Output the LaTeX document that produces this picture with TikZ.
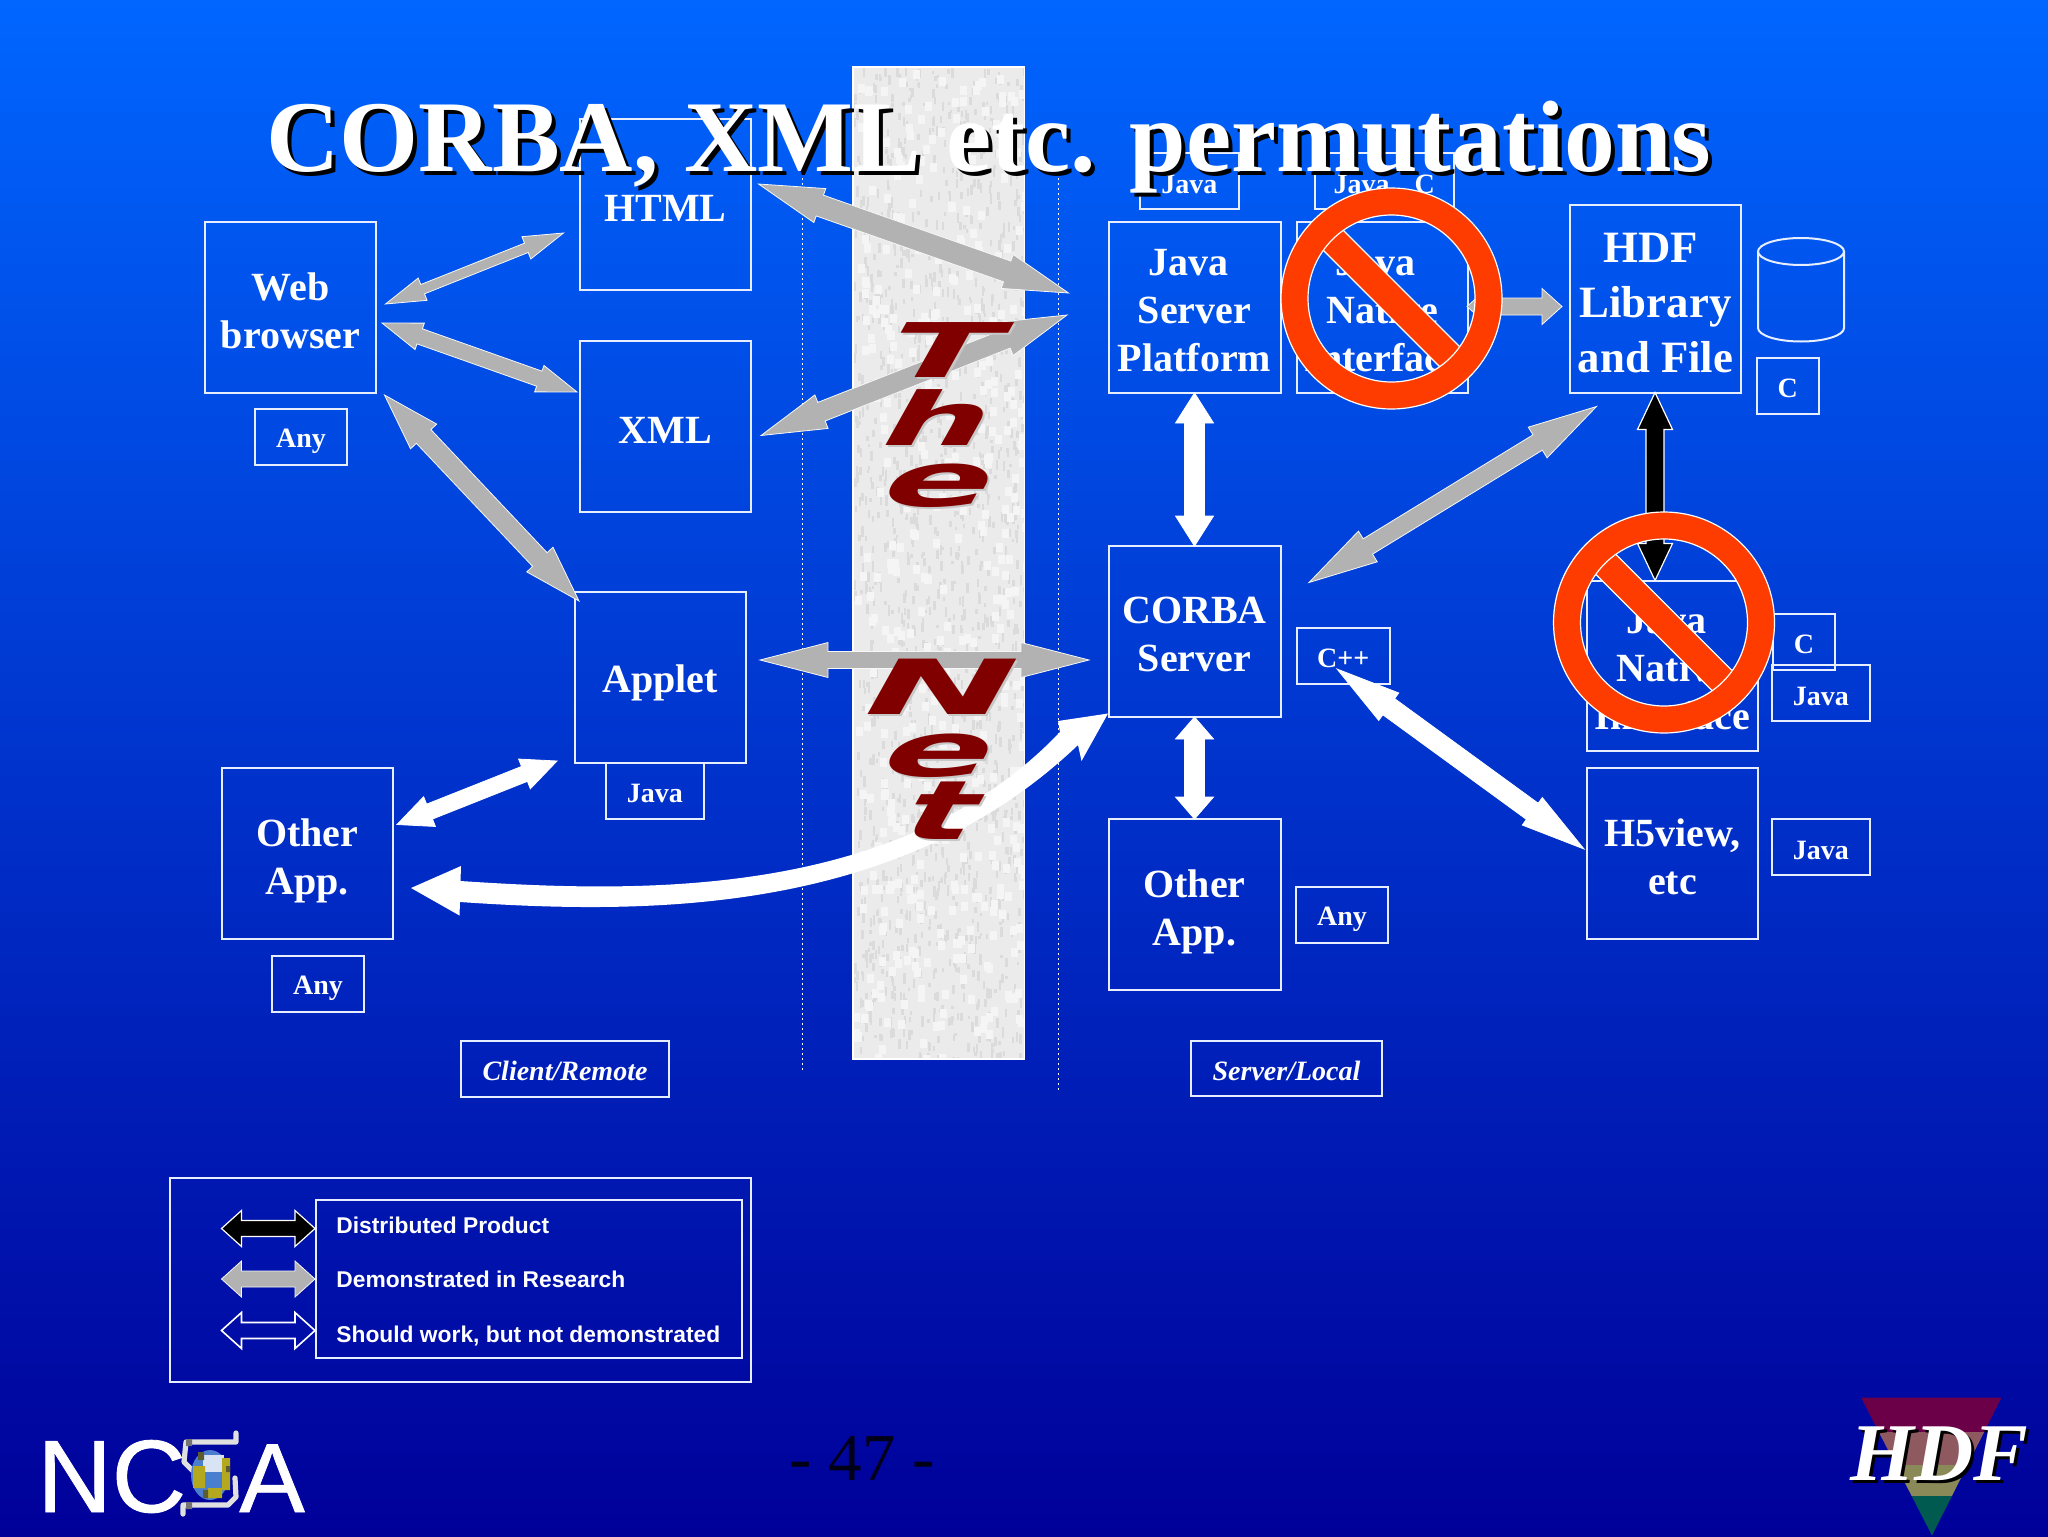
\documentclass[tikz,border=0pt]{standalone}
\usepackage{fontspec}
\usetikzlibrary{calc}
\setmainfont{Liberation Serif}
\newfontfamily\arialf{Liberation Sans}
\newfontfamily\ncsafont[FakeBold=0.8]{Liberation Sans}
\newfontfamily\wafont{DejaVu Sans}
\definecolor{bgtop}{HTML}{0066FF}
\definecolor{bgbot}{HTML}{000099}
\definecolor{boxw}{HTML}{E6EEFF}
\definecolor{graya}{HTML}{B2B2B2}
\definecolor{signred}{HTML}{FF3C00}
\definecolor{netred}{HTML}{800000}
\definecolor{globeblue}{HTML}{4A7FD0}
\definecolor{globelight}{HTML}{D8E4F4}
\definecolor{globeyel}{HTML}{B4A81E}
\definecolor{globedark}{HTML}{5C5C30}
\definecolor{trione}{HTML}{6B0048}
\definecolor{tritwo}{HTML}{8E5A60}
\definecolor{trithree}{HTML}{8A8A58}
\definecolor{trifour}{HTML}{005A50}
\tikzset{
  x=0.5pt,y=-0.5pt,
  boxed/.style={draw=boxw,line width=1pt,inner sep=0pt,outer sep=0pt,align=center,text=white},
  boxtext/.style={inner sep=0pt,outer sep=0pt,align=center,text=white},
  lab/.style={font=\bfseries\fontsize{20}{24}\selectfont,
    execute at begin node={\rule{0pt}{20pt}},execute at end node={\rule[-3.5pt]{0pt}{3.5pt}}},
  labbig/.style={font=\bfseries\fontsize{22.4}{27.5}\selectfont,
    execute at begin node={\rule{0pt}{22pt}},execute at end node={\rule[-4.3pt]{0pt}{4.3pt}}},
  lsmall/.style={font=\bfseries\fontsize{14}{16}\selectfont,
    execute at begin node={\rule{0pt}{14pt}},execute at end node={\rule[-2pt]{0pt}{2pt}}},
  lital/.style={font=\bfseries\itshape\fontsize{14}{16}\selectfont,
    execute at begin node={\rule{0pt}{14pt}},execute at end node={\rule[-2.5pt]{0pt}{2.5pt}}},
  grayarrow/.style={fill=graya,draw=white!90!graya,line width=.4pt,line join=miter},
  whitearrow/.style={fill=white,draw=white,line width=.4pt},
  blackarrow/.style={fill=black,draw=white,line width=.6pt},
  hollowarrow/.style={fill=none,draw=white,line width=.8pt},
  wfront/.style={text=netred},
  wback/.style={text=black!22},
  leglab/.style={anchor=base west,inner sep=0pt,text=white,font=\arialf\bfseries\fontsize{11.4}{13}\selectfont},
}
% rectangle node from corner coordinates (px)
\newcommand{\bx}[7]{\node[boxed,#6,minimum width={(#4-#2)*0.5pt},minimum height={(#5-#3)*0.5pt}] (#1) at ({(#2+#4)/2},{(#3+#5)/2}) {#7};}
% the same, with a several-line text set a little lower than the middle
\newcommand{\bxm}[8]{\node[boxed,minimum width={(#4-#2)*0.5pt},minimum height={(#5-#3)*0.5pt}] (#1) at ({(#2+#4)/2},{(#3+#5)/2}) {};
  \node[boxtext,#6,yshift=#8] (#1t) at (#1.center) {#7};}
% double-headed block arrow: from,to,shaft half,head half,head length,style (px)
\newcommand{\blockarrow}[6]{%
  \coordinate (ba1) at ($(#1)!#5*0.5pt!(#2)$);
  \coordinate (ba2) at ($(#2)!#5*0.5pt!(#1)$);
  \draw[#6] (#1) -- ($(ba1)!#4*0.5pt!90:(#1)$) -- ($(ba1)!#3*0.5pt!90:(#1)$)
    -- ($(ba2)!#3*0.5pt!-90:(#2)$) -- ($(ba2)!#4*0.5pt!-90:(#2)$) -- (#2)
    -- ($(ba2)!#4*0.5pt!90:(#2)$) -- ($(ba2)!#3*0.5pt!90:(#2)$)
    -- ($(ba1)!#3*0.5pt!-90:(#1)$) -- ($(ba1)!#4*0.5pt!-90:(#1)$) -- cycle;
}
% prohibition sign
\newcommand{\nosign}[3]{%
  \begin{scope}[shift={(#2,#3)}]
    \coordinate (#1) at (0,0);
    \begin{scope}
      \clip (0,0) circle [radius=86];
      \draw[fill=signred,draw=white,line width=.6pt] (-72,-92) -- (-92,-72) -- (72,92) -- (92,72) -- cycle;
    \end{scope}
    \draw[fill=signred,draw=white,line width=.6pt,even odd rule] (0,0) circle [radius=110.5] (0,0) circle [radius=83.5];
  \end{scope}
}
% WordArt letter
\newcommand{\waletter}[6]{%
  \node[wback,inner sep=0pt,transform shape,xslant=.56,xscale=#5,yscale=#6,font=\wafont\bfseries\fontsize{100}{100}\selectfont] at (#2+2,#3+2) {#4};
  \node[wfront,inner sep=0pt,transform shape,xslant=.56,xscale=#5,yscale=#6,font=\wafont\bfseries\fontsize{100}{100}\selectfont] (#1) at (#2,#3) {#4};
}
\begin{document}
\begin{tikzpicture}
\useasboundingbox (0,0) rectangle (2048,1536);
\shade[top color=bgtop,bottom color=bgbot] (0,0) rectangle (2048,1536);
% the net band
\fill[black!8] (853,67) rectangle (1024.5,1059);
\begin{scope}
  \clip (853,67) rectangle (1024.5,1059);
  \pgfmathsetseed{4711}
  \foreach \i in {1,...,1500}{
    \pgfmathsetmacro\rx{853+rnd*172}
    \pgfmathsetmacro\ry{67+rnd*992}
    \pgfmathsetmacro\rh{3+rnd*8}
    \fill[black!14] (\rx,\ry) rectangle (\rx+2.5,\ry+\rh);
  }
  \foreach \i in {1,...,500}{
    \pgfmathsetmacro\rx{853+rnd*172}
    \pgfmathsetmacro\ry{67+rnd*992}
    \fill[black!4] (\rx,\ry) rectangle (\rx+7,\ry+9);
  }
\end{scope}
\draw[white,line width=.8pt] (853,67) rectangle (1024.5,1059);
\coordinate (dl1a) at (802,173); \coordinate (dl1b) at (802,1073);
\coordinate (dl2a) at (1058,173); \coordinate (dl2b) at (1058,1090);
\draw[white,line width=.5pt,dash pattern=on 1pt off 1.5pt] (dl1a) -- (dl1b);
\draw[white,line width=.5pt,dash pattern=on 1pt off 1.5pt] (dl2a) -- (dl2b);
% boxes
\bxm{web}{205}{222}{376}{393}{lab}{Web\\browser}{-3.25pt}
\bx{anyw}{255}{409}{347}{465}{lsmall}{Any}
\bx{html}{580}{119}{751}{290}{lab}{HTML}
\bx{xml}{580}{341}{751}{512}{lab}{XML}
\bx{applet}{574.5}{591.5}{745.5}{762.5}{lab}{Applet}
\bx{javaa}{605.5}{763}{704}{818.5}{lsmall}{Java}
\bxm{otherl}{221.5}{767.5}{393}{939}{lab}{Other\\App.}{-3.6pt}
\bx{anyl}{272}{955.5}{364}{1011.5}{lsmall}{Any}
\bx{client}{461}{1041}{669}{1096.5}{lital}{Client/Remote}
\bxm{jserv}{1108.5}{222}{1280.5}{393}{lab}{Java\hspace*{6.5pt}\\Server\hspace*{6.5pt}\\Platform}{-3.25pt}
\bx{jsmall}{1140}{153}{1238.5}{209}{lsmall}{Java}
\bxm{jni}{1296.5}{222}{1468}{393}{lab}{Java\hspace*{6.5pt}\\Native\\Interface}{-3.25pt}
\bx{jcsmall}{1314.5}{153}{1454}{209}{lsmall}{Java\hspace{.9em}C}
\bxm{hdfb}{1570}{205}{1741}{393}{labbig}{HDF\hspace*{5pt}\\Library\\and File}{-3.9pt}
\bx{cb}{1757}{358}{1818.5}{413.5}{lsmall}{C}
\bxm{corba}{1108.5}{546}{1280.5}{717}{lab}{CORBA\\Server}{-3.25pt}
\bx{cpp}{1296.5}{628}{1390}{683.5}{lsmall}{C++}
\bxm{otherr}{1108.5}{819}{1280.5}{990}{lab}{Other\\App.}{-3.6pt}
\bx{anyr}{1296}{887}{1388}{943}{lsmall}{Any}
\bx{server}{1191}{1041}{1382}{1096}{lital}{Server/Local}
\bxm{h5}{1587}{768}{1758}{939}{lab}{H5view,\\etc}{-3.4pt}
\bx{javah}{1771.5}{819}{1870}{875}{lsmall}{Java}
\bxm{jni2}{1587}{580.5}{1758}{751}{lab}{Java\hspace*{6.5pt}\\Native\\Interface}{-3.25pt}
\bx{c2}{1773}{614}{1835}{669.5}{lsmall}{C}
\bx{java2}{1771.5}{665}{1870}{721}{lsmall}{Java}
% cylinder
\draw[boxw,line width=1pt] (1758,251.5) -- (1758,328) arc[start angle=180,end angle=0,x radius=43,y radius=13.5] -- (1844,251.5);
\draw[boxw,line width=1pt] (1801,251.5) ellipse [x radius=43,y radius=13.5];
% arrows
\coordinate (a1) at (385.5,304); \coordinate (a2) at (563.5,233);
\blockarrow{a1}{a2}{5}{12}{40}{grayarrow}
\coordinate (b1) at (382,323); \coordinate (b2) at (577,392);
\blockarrow{b1}{b2}{8}{14}{40}{grayarrow}
\coordinate (c1) at (758.5,184); \coordinate (c2) at (1068.5,293);
\blockarrow{c1}{c2}{11}{18}{65}{grayarrow}
\coordinate (d1) at (761,435.5); \coordinate (d2) at (1067,315);
\blockarrow{d1}{d2}{10}{18}{65}{grayarrow}
\coordinate (e1) at (384.5,395); \coordinate (e2) at (579,601);
\blockarrow{e1}{e2}{10}{18}{57}{grayarrow}
\coordinate (f1) at (760,660); \coordinate (f2) at (1089,660);
\blockarrow{f1}{f2}{8.5}{17.5}{68}{grayarrow}
\blockarrow{jserv.south}{corba.north}{10}{19}{30}{whitearrow}
\blockarrow{corba.south}{otherr.north}{10}{19}{22}{whitearrow}
\coordinate (g1) at (1467,306.5); \coordinate (g2) at (1562,306.5);
\blockarrow{g1}{g2}{8.5}{18}{20}{grayarrow}
\coordinate (h1) at (1309,582.5); \coordinate (h2) at (1596.5,406.5);
\blockarrow{h1}{h2}{9}{18}{69}{grayarrow}
\coordinate (i1) at (1655,392.5); \coordinate (i2) at (1655,580.5);
\blockarrow{i1}{i2}{9}{17.5}{37}{blackarrow}
\coordinate (j1) at (1337,669); \coordinate (j2) at (1584,849);
\blockarrow{j1}{j2}{10}{17}{64}{whitearrow}
\coordinate (k1) at (397,824.5); \coordinate (k2) at (557,761);
\blockarrow{k1}{k2}{8}{16}{35}{whitearrow}
% long curved white arrow
\coordinate (m1) at (411,888); \coordinate (m2) at (1108,713.5);
\fill[white] (m1) -- (461,866) -- (460.5,881) .. controls (640,893) and (900,900) .. (1060,732)
  -- (1058,721) -- (m2) -- (1081.5,761) -- (1078,745) .. controls (900,915) and (650,915) .. (460,902) -- (459.5,915.5) -- cycle;
% The Net
\waletter{n1}{945.5}{350}{T}{.8}{.377}
\waletter{n2}{942}{418}{h}{.74}{.368}
\waletter{n3}{939.5}{486}{e}{.8}{.38}
\waletter{n4}{942}{687}{N}{.9}{.38}
\waletter{n5}{939.5}{756}{e}{.8}{.38}
\waletter{n6}{945}{810.5}{t}{.72}{.41}
% prohibition signs
\nosign{s1}{1391.5}{298.5}
\nosign{s2}{1664}{622.5}
% title
\node[anchor=base west,inner sep=0pt,text=black,font=\bfseries\fontsize{50.8}{60}\selectfont] at (270,175) {CORBA, XML etc. permutations};
\node[anchor=base west,inner sep=0pt,text=white,font=\bfseries\fontsize{50.8}{60}\selectfont] (title) at (266,171) {CORBA, XML etc. permutations};
% legend
\bx{legout}{170}{1178}{751}{1382}{}{}
\bx{legin}{315.5}{1200}{742}{1358}{}{}
\coordinate (l1a) at (221.5,1228.5); \coordinate (l1b) at (315,1228.5);
\blockarrow{l1a}{l1b}{8}{18}{20}{blackarrow}
\coordinate (l2a) at (221.5,1279); \coordinate (l2b) at (315,1279);
\blockarrow{l2a}{l2b}{8}{18}{20}{grayarrow}
\coordinate (l3a) at (221.5,1330.5); \coordinate (l3b) at (315,1330.5);
\blockarrow{l3a}{l3b}{8}{18}{20}{hollowarrow}
\node[leglab] (t1) at (336,1233) {Distributed Product};
\node[leglab] (t2) at (336,1287.5) {Demonstrated in Research};
\node[leglab] (t3) at (336,1342.5) {Should work, but not demonstrated};
% page number
\node[anchor=base,inner sep=0pt,text=black!85!bgbot,font=\fontsize{33.5}{36}\selectfont] (pg) at (862,1480) {- 47 -};
% NCSA logo
\node[anchor=base west,inner sep=0pt,text=white,font=\ncsafont\fontsize{51.5}{56}\selectfont] (ncsa1) at (37,1512) {NC};
\node[anchor=base west,inner sep=0pt,text=white,font=\ncsafont\fontsize{49}{56}\selectfont] (ncsa2) at (239,1512) {A};
\draw[black!12,line width=2.6pt,line join=round,line cap=round]
  (236,1433) -- (236,1442) -- (186,1442) -- (184,1462) -- (198,1476)
  (235,1478) -- (236,1497) -- (228,1505) -- (183,1505) -- (183,1514);
\fill[black!55] (186,1439) rectangle (192,1446) (186,1502) rectangle (192,1509);
\fill[globeblue] (210,1475) ellipse [x radius=19,y radius=25];
\fill[globelight] (203,1455) rectangle (224,1472);
\fill[globeyel] (193,1466) rectangle (205,1488) (222,1458) rectangle (230,1490) (208,1488) rectangle (222,1498);
\fill[globedark] (198,1452) rectangle (204,1460) (226,1466) rectangle (230,1472) (203,1490) rectangle (208,1498);
% HDF logo
\begin{scope}
  \clip (1861,1397.5) -- (2001.5,1397.5) -- (1932,1535.5) -- cycle;
  \fill[trione] (1855,1397) rectangle (2010,1432);
  \fill[tritwo] (1855,1432) rectangle (2010,1465);
  \fill[trithree] (1855,1465) rectangle (2010,1496);
  \fill[trifour] (1855,1496) rectangle (2010,1536);
\end{scope}
\node[anchor=base west,inner sep=0pt,text=black,font=\bfseries\itshape\fontsize{41}{44}\selectfont] at (1853,1483) {HDF};
\node[anchor=base west,inner sep=0pt,text=white,font=\bfseries\itshape\fontsize{41}{44}\selectfont] (hdfl) at (1850,1480) {HDF};
\end{tikzpicture}
\end{document}
